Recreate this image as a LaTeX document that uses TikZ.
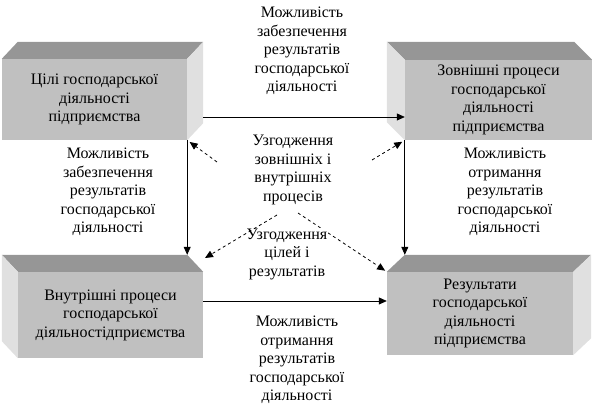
\documentclass[tikz,border=0pt]{standalone}
\usepackage{fontspec}
\setmainfont{Liberation Serif}
\usetikzlibrary{arrows.meta, positioning, calc}
\definecolor{frontgrey}{RGB}{192,192,192}
\definecolor{topgrey}{RGB}{150,150,150}
\definecolor{sidegrey}{RGB}{224,224,224}
% top and side faces of a slab: #1 front node, #2 dx, #3 dy
\newcommand{\topslab}[3]{\fill[topf] (#1.north west) -- ++(#2,#3) -- ($(#1.north east)+(#2,#3)$) -- (#1.north east) -- cycle;}
\newcommand{\eastslab}[3]{\fill[sidef] (#1.north east) -- ++(#2,#3) -- ($(#1.south east)+(#2,#3)$) -- (#1.south east) -- cycle;}
\newcommand{\westslab}[3]{\fill[sidef] (#1.north west) -- ++(#2,#3) -- ($(#1.south west)+(#2,#3)$) -- (#1.south west) -- cycle;}

\begin{document}
\begin{tikzpicture}[
  x=1pt, y=-1pt,
  every node/.style={font=\fontsize{16}{18.5}\selectfont, align=center},
  face/.style={fill=frontgrey, inner sep=0pt},
  topf/.style={fill=topgrey},
  sidef/.style={fill=sidegrey},
  arr/.style={draw, line width=0.8pt, -{Triangle[length=8pt,width=7pt]}},
  dasharr/.style={draw, line width=0.8pt, dash pattern=on 3pt off 3pt, -{Triangle[length=8pt,width=7pt]}},
  lbl/.style={inner sep=1pt}
  ]
  \useasboundingbox (0,0) rectangle (592,411);
  % the four slabs
  \node[face, minimum width=185pt, minimum height=81pt] (goals) at (94.5,99.5) {Цілі господарської\\діяльності\\підприємства};
  \topslab{goals}{16}{-17} \eastslab{goals}{16}{-17}
  \node[face, minimum width=187pt, minimum height=80pt] (external) at (498.5,100) {Зовнішні процеси\\господарської\\діяльності\\підприємства};
  \topslab{external}{-18}{-18} \westslab{external}{-18}{-18}
  \node[face, minimum width=185pt, minimum height=86pt] (internal) at (110.5,315) {Внутрішні процеси\\господарської\\діяльностідприємства};
  \topslab{internal}{-16}{-17} \westslab{internal}{-16}{-17}
  \node[face, minimum width=186pt, minimum height=83pt] (results) at (480,313.5) {Результати\\господарської\\діяльності\\підприємства};
  \topslab{results}{18}{-17} \eastslab{results}{18}{-17}
  % labels on the arrows
  \node[lbl] (topnote) at (302,51) {Можливість\\забезпечення\\результатів\\господарської\\діяльності};
  \node[lbl] (leftnote) at (108,192) {Можливість\\забезпечення\\результатів\\господарської\\діяльності};
  \node[lbl] (rightnote) at (505,192) {Можливість\\отримання\\результатів\\господарської\\діяльності};
  \node[lbl] (botnote) at (297,360) {Можливість\\отримання\\результатів\\господарської\\діяльності};
  \node[lbl] (agree1) at (293,170) {Узгодження\\зовнішніх і\\внутрішніх\\процесів};
  % solid arrows
  \coordinate (a1) at (203,117);
  \coordinate (b1) at (203,301);
  \coordinate (internalTop) at ($(internal.north)+(0,-17)$);
  \coordinate (resultsTop) at ($(results.north)+(0,-17)$);
  \draw[arr] (a1) -- (external.west |- a1);
  \draw[arr] (b1) -- (results.west |- b1);
  \draw[arr] (goals.south east) -- (goals.south east |- internalTop);
  \draw[arr] (external.south west) -- (external.south west |- resultsTop);
  % dashed arrows
  \coordinate (d1) at (217,162);
  \coordinate (d2) at (372,160);
  \coordinate (d3) at (277,215);
  \coordinate (d4) at (298,213);
  \coordinate (e3) at (205,258);
  \draw[dasharr, shorten >=3pt] (d1) -- (goals.south east);
  \draw[dasharr, shorten >=3pt] (d2) -- (external.south west);
  \draw[dasharr, shorten >=2pt] (d4) -- (results.north west);
  \node[lbl, fill=white] (agree2) at (287,254) {Узгодження\\цілей і\\результатів};
  \draw[dasharr] (d3) -- (e3);
\end{tikzpicture}
\end{document}
